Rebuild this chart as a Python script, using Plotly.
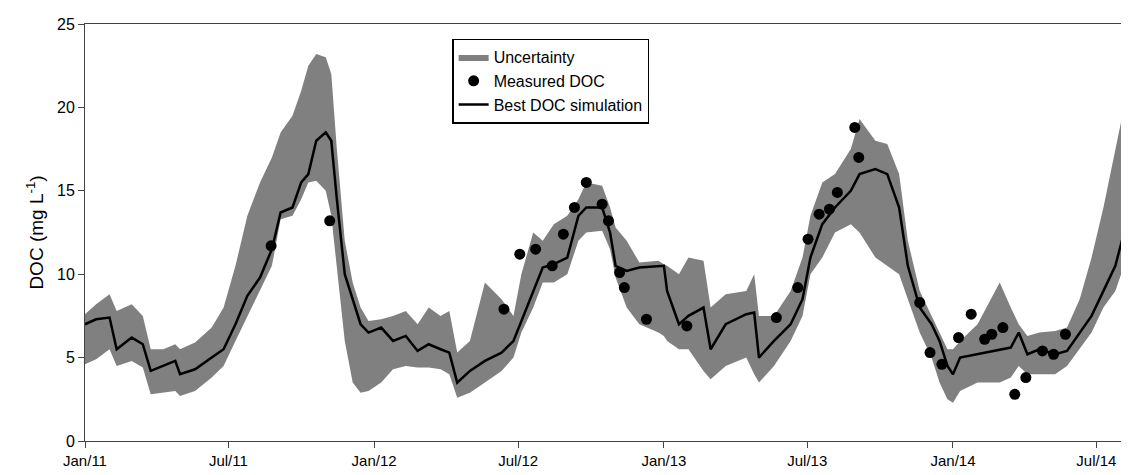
import plotly.graph_objects as go

dates = ["2011-01-01","2011-01-15","2011-02-01","2011-02-10","2011-03-01","2011-03-15","2011-03-25","2011-04-10","2011-04-25","2011-05-01","2011-05-20","2011-06-10","2011-06-25","2011-07-10","2011-07-25","2011-08-10","2011-08-25","2011-09-05","2011-09-20","2011-10-01","2011-10-10","2011-10-20","2011-11-01","2011-11-08","2011-11-15","2011-11-25","2011-12-05","2011-12-15","2011-12-25",
"2012-01-10","2012-01-25","2012-02-10","2012-02-25","2012-03-10","2012-03-25","2012-04-05","2012-04-15","2012-05-01","2012-05-20","2012-06-10","2012-06-25","2012-07-05","2012-07-20","2012-08-01","2012-08-15","2012-09-01","2012-09-15","2012-09-25","2012-10-15","2012-10-25","2012-11-01","2012-11-15","2012-12-01","2012-12-25",
"2013-01-01","2013-01-05","2013-01-20","2013-02-01","2013-02-20","2013-03-01","2013-03-20","2013-04-15","2013-04-25","2013-05-01","2013-05-20","2013-06-10","2013-06-25","2013-07-05","2013-07-20","2013-08-05","2013-08-25","2013-09-05","2013-09-25","2013-10-10","2013-10-25","2013-11-05","2013-11-20","2013-12-05","2013-12-15","2013-12-25",
"2014-01-01","2014-01-10","2014-02-01","2014-03-01","2014-03-15","2014-03-25","2014-04-05","2014-04-20","2014-05-10","2014-05-25","2014-06-10","2014-06-25","2014-07-10","2014-07-25","2014-08-05","2014-08-10"]

sim = [7.0,7.3,7.4,5.5,6.2,5.8,4.2,4.5,4.8,4.0,4.3,5.0,5.5,7.0,8.7,9.8,11.5,13.7,14.0,15.5,16.0,18.0,18.5,18.0,14.5,10.0,8.5,7.0,6.5,
6.8,6.0,6.3,5.4,5.8,5.5,5.3,3.5,4.2,4.8,5.3,6.0,7.2,9.0,10.4,10.6,11.0,13.5,14.0,14.0,12.5,10.5,10.2,10.4,10.5,
10.5,9.0,7.0,7.5,8.0,5.5,7.0,7.6,7.7,5.0,6.0,7.0,8.5,11.0,13.0,14.0,15.0,16.0,16.3,16.0,14.0,10.5,8.0,7.0,6.0,4.5,
4.0,5.0,5.2,5.5,5.6,6.5,5.2,5.5,5.2,5.4,6.5,7.5,9.0,10.5,12.5,13.0]

upper = [7.6,8.2,8.8,7.8,8.2,7.5,5.5,5.5,5.8,5.5,5.9,6.8,8.0,10.5,13.5,15.5,17.0,18.5,19.5,21.0,22.5,23.2,23.0,22.0,17.5,12.0,9.5,8.0,7.2,
7.3,7.5,7.8,7.0,8.0,7.5,7.8,5.3,6.0,9.5,8.5,7.5,10.0,12.5,12.0,13.0,13.5,14.5,15.5,15.3,14.0,12.8,12.0,10.7,10.8,
10.6,10.5,10.0,11.0,10.8,8.0,8.8,9.0,10.0,7.5,7.5,9.0,11.0,13.5,15.5,16.0,17.5,19.3,18.0,17.8,16.0,12.0,9.0,7.5,6.5,5.5,
5.5,6.0,7.0,9.5,8.0,7.0,6.3,6.5,6.6,6.8,8.5,11.0,14.0,17.5,20.0,20.8]

lower = [4.6,4.9,5.5,4.5,4.8,4.4,2.8,2.9,3.0,2.7,3.0,3.8,4.5,6.0,7.5,9.0,10.5,13.3,13.5,14.5,15.5,15.6,15.0,13.5,10.5,6.0,3.5,2.9,3.0,
3.5,4.3,4.5,4.4,4.4,4.3,4.0,2.6,2.9,3.5,4.2,5.0,6.5,8.0,9.5,9.5,10.0,12.0,12.5,12.6,11.5,9.8,8.0,7.0,6.5,
6.3,6.0,5.5,5.5,4.2,3.7,4.5,5.0,4.0,3.5,4.5,6.0,7.5,10.0,11.0,12.5,13.0,12.5,11.0,10.5,10.0,8.5,6.5,5.0,3.5,2.5,
2.3,3.0,3.5,3.5,3.8,4.5,4.0,4.0,4.0,4.5,5.5,6.5,8.0,9.0,10.5,11.0]

meas_dates = ["2011-08-24","2011-11-06","2012-06-13","2012-07-03","2012-07-23","2012-08-13","2012-08-27","2012-09-10","2012-09-25","2012-10-15","2012-10-23","2012-11-06","2012-11-12","2012-12-10","2013-01-30","2013-05-23","2013-06-19","2013-07-02","2013-07-16","2013-07-29","2013-08-08","2013-08-30","2013-09-04","2013-11-20","2013-12-03","2013-12-18","2014-01-08","2014-01-24","2014-02-10","2014-02-19","2014-03-05","2014-03-20","2014-04-03","2014-04-24","2014-05-08","2014-05-23"]
meas = [11.7,13.2,7.9,11.2,11.5,10.5,12.4,14.0,15.5,14.2,13.2,10.1,9.2,7.3,6.9,7.4,9.2,12.1,13.6,13.9,14.9,18.8,17.0,8.3,5.3,4.6,6.2,7.6,6.1,6.4,6.8,2.8,3.8,5.4,5.2,6.4]

tickvals = ["2011-01-01","2011-07-01","2012-01-01","2012-07-01","2013-01-01","2013-07-01","2014-01-01","2014-07-01"]
ticktext = ["Jan/11","Jul/11","Jan/12","Jul/12","Jan/13","Jul/13","Jan/14","Jul/14"]

fig = go.Figure()
fig.add_trace(go.Scatter(x=dates, y=lower, mode="lines", line=dict(width=0, color="#808080"),
                         showlegend=False, hoverinfo="skip"))
fig.add_trace(go.Scatter(x=dates, y=upper, mode="lines", line=dict(width=0, color="#808080"),
                         fill="tonexty", fillcolor="#808080", name="Uncertainty"))
fig.add_trace(go.Scatter(x=meas_dates, y=meas, mode="markers",
                         marker=dict(color="black", size=11), name="Measured DOC"))
fig.add_trace(go.Scatter(x=dates, y=sim, mode="lines", line=dict(color="black", width=2.5),
                         name="Best DOC simulation"))

fig.update_layout(
    width=1129, height=475, paper_bgcolor="white", plot_bgcolor="white",
    margin=dict(l=77, r=9, t=16, b=42, autoexpand=False),
    font=dict(family="Liberation Sans, Arial", size=16, color="black"),
    legend=dict(x=0.352, y=0.965, xanchor="left", yanchor="top", bordercolor="black",
                borderwidth=1.5, bgcolor="white", font=dict(size=16), traceorder="normal"),
    showlegend=True,
)
fig.update_xaxes(range=["2011-01-01", "2014-08-10"], tickvals=tickvals, ticktext=ticktext,
                 ticks="outside", ticklen=6, tickcolor="#444", showline=True, linecolor="#444",
                 mirror=True, showgrid=False, zeroline=False, automargin=False, tickfont=dict(size=15))
fig.update_yaxes(range=[0, 25], dtick=5, ticks="outside", ticklen=6, tickcolor="#444",
                 showline=True, linecolor="#444", mirror=True, showgrid=False, zeroline=False,
                 automargin=False, tickfont=dict(size=16),
                 title=dict(text="DOC (mg L<sup>-1</sup>)", standoff=8))
fig.write_html("out.html")
